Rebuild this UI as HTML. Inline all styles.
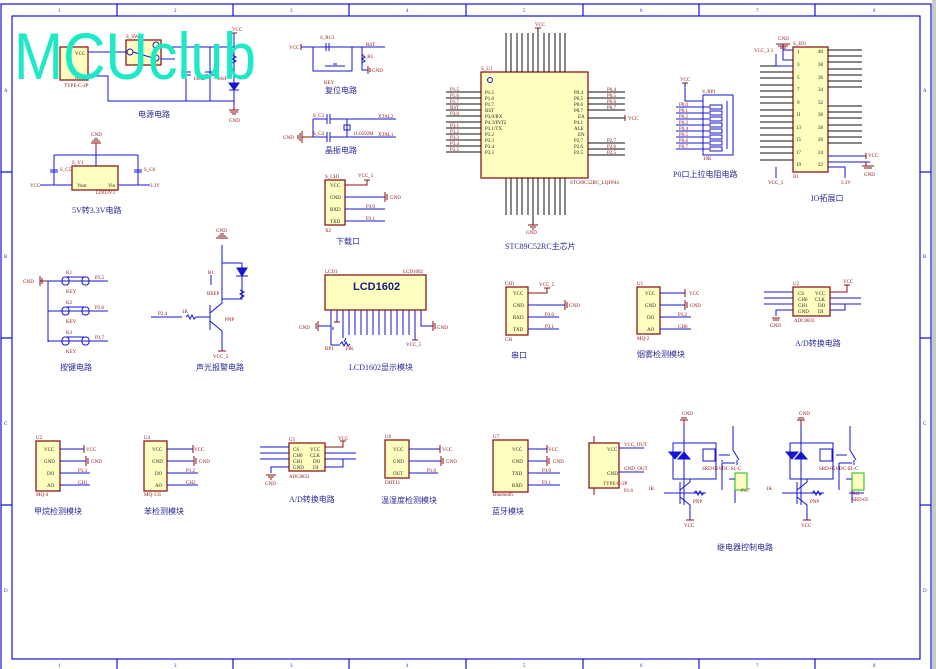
<!DOCTYPE html>
<html><head><meta charset="utf-8"><style>
html,body{margin:0;padding:0;background:#fff;width:936px;height:669px;overflow:hidden}
svg{display:block}
.b{stroke:#1414d2;fill:none;stroke-width:1}
.k{stroke:#111;fill:none;stroke-width:1}
.r{stroke:#8b1010;fill:none;stroke-width:1}
.bx{fill:#ffffc0;stroke:#8b1a1a;stroke-width:1.3}
.f{stroke:#1414d2;fill:none;stroke-width:1.2}
text{font-family:"Liberation Serif","Noto Serif CJK SC",serif}
.t{font-size:5px;fill:#8b1010}
.p{font-size:5px;fill:#222}
.n{font-size:4.5px;fill:#333}
.h{font-size:8px;fill:#2a2a9a;font-family:"Liberation Serif","Noto Sans CJK SC",serif}
.fr{font-size:5px;fill:#2a2ad0;font-family:"Liberation Sans",sans-serif}
</style></head><body>
<svg width="936" height="669" viewBox="0 0 936 669" xmlns="http://www.w3.org/2000/svg">
<rect x="932" y="0" width="4" height="669" fill="#c8c8c8"/>
<!-- frame -->
<g class="f">
<rect x="1" y="4" width="930" height="670"/>
<rect x="12" y="16" width="908" height="643"/>
<path d="M117 4V16M233 4V16M349 4V16M466 4V16M583 4V16M699 4V16M815 4V16"/>
<path d="M117 659V669M233 659V669M349 659V669M466 659V669M583 659V669M699 659V669M815 659V669"/>
<path d="M1 172H12M1 338H12M1 505H12M920 172H931M920 338H931M920 505H931"/>
</g>
<g class="fr">
<text x="58" y="12">1</text><text x="174" y="12">2</text><text x="290" y="12">3</text><text x="406" y="12">4</text><text x="523" y="12">5</text><text x="640" y="12">6</text><text x="756" y="12">7</text><text x="873" y="12">8</text>
<text x="58" y="667">1</text><text x="174" y="667">2</text><text x="290" y="667">3</text><text x="406" y="667">4</text><text x="523" y="667">5</text><text x="640" y="667">6</text><text x="756" y="667">7</text><text x="873" y="667">8</text>
<text x="4" y="92">A</text><text x="4" y="258">B</text><text x="4" y="425">C</text><text x="4" y="592">D</text>
<text x="923" y="92">A</text><text x="923" y="258">B</text><text x="923" y="425">C</text><text x="923" y="592">D</text>
</g>

<!-- ===== Power circuit ===== -->
<rect class="bx" x="60" y="47" width="28" height="33"/>
<text class="p" x="75" y="55">VCC</text><text class="p" x="75" y="79">GND</text>
<text class="t" x="64" y="87">TYPE-C-2P</text>
<rect class="bx" x="126" y="40" width="35" height="25"/>
<text class="t" x="126" y="38">S_SW1</text>
<g class="b">
<path d="M88 52H126M88 76H108V101H234M161 47H234M161 59H175M186 47V101M210 47V101M234 33V101V105"/>
<circle cx="130" cy="52" r="3"/><circle cx="156" cy="45" r="3"/><circle cx="156" cy="58" r="3"/>
<path d="M133 52L153 58M181 72H191M181 75H191M205 72H215M205 75H215"/>
<path d="M229 83H239L234 90Z" fill="#1414d2"/><path d="M229 90H239"/>
<path d="M232 55l4 2-4 2 4 2-4 2"/>
</g>
<g class="r"><path d="M229 110H239M230 112H238M232 114H236M234 105V110M231 33H237"/></g>
<text class="t" x="232" y="31">VCC</text><text class="t" x="229" y="122">GND</text>
<text class="t" x="193" y="80">100uF</text><text class="t" x="217" y="80">10uF</text>
<text class="h" x="138" y="117">电源电路</text>

<!-- ===== 5V to 3.3V ===== -->
<rect class="bx" x="72" y="166" width="46" height="24"/>
<text class="t" x="72" y="164">S_V1</text><text class="p" x="77" y="187">Vout</text><text class="p" x="108" y="187">Vin</text>
<text class="t" x="96" y="194">LDO3V3</text>
<g class="b"><path d="M54 155H138M96 152V166M54 155V185M138 155V185M50 170H58M50 172H58M134 170H142M134 172H142M40 185H72M118 185H150"/></g>
<g class="r"><path d="M91 143H101M92 141H100M94 139H98M96 143V152"/></g>
<text class="t" x="91" y="136">GND</text><text class="t" x="30" y="187">VCC</text><text class="t" x="150" y="187">3.3V</text>
<text class="t" x="60" y="171">S_C5</text><text class="t" x="144" y="171">S_C6</text>
<text class="h" x="72" y="213">5V转3.3V电路</text>

<!-- ===== Reset ===== -->
<g class="b"><path d="M301 47H385M313 47V71H352V47M326 43V51M329 43V51M362 55l3 2-3 2 3 2-3 2M362 47V70H368M325 66H345M333 64H337"/></g>
<g class="r"><path d="M368 66V74M370 68V72M301 44V50"/></g>
<text class="t" x="289" y="49">VCC</text><text class="t" x="320" y="39">S_RC1</text><text class="t" x="366" y="46">RST</text>
<text class="t" x="362" y="58">S_R1</text><text class="t" x="372" y="72">GND</text><text class="t" x="324" y="84">KEY</text>
<text class="h" x="325" y="93">复位电路</text>
<!-- crystal -->
<g class="b"><path d="M313 119V137M313 119H327M330 119H396M313 137H327M330 137H396M327 114V124M330 114V124M327 132V142M330 132V142M347 119V137"/><rect x="344" y="125" width="6" height="5"/></g>
<g class="r"><path d="M302 131V143M300 133V141M298 135V139M302 137H313"/></g>
<text class="t" x="283" y="139">GND</text><text class="t" x="313" y="117">S_C3</text><text class="t" x="313" y="135">S_C4</text>
<text class="t" x="378" y="118">XTAL2</text><text class="t" x="378" y="136">XTAL1</text><text class="t" x="353" y="135">11.0592M</text>
<text class="h" x="325" y="153">晶振电路</text>
<!-- download -->
<rect class="bx" x="325" y="180" width="20" height="45"/>
<text class="t" x="325" y="178">S_CH1</text>
<text class="p" x="330" y="187">VCC</text><text class="p" x="330" y="199">GND</text><text class="p" x="330" y="211">RXD</text><text class="p" x="330" y="223">TXD</text>
<g class="b"><path d="M345 197H385M345 209H385M345 221H385"/></g>
<g class="r"><path d="M345 185H367V180M364 180H370M385 192V202M387 194V200"/></g>
<text class="t" x="358" y="177">VCC_5</text><text class="t" x="390" y="199">GND</text><text class="t" x="366" y="208">P3.0</text><text class="t" x="366" y="220">P3.1</text>
<text class="t" x="325" y="232">X2</text>
<text class="h" x="336" y="244">下载口</text>

<!-- ===== MCU ===== -->
<rect class="bx" x="481" y="72" width="107" height="106"/>
<text class="t" x="481" y="70">S_U1</text>
<circle cx="490" cy="80" r="2.5" fill="none" stroke="#1414d2"/>
<g class="k">
<path d="M506 33V72M511 33V72M517 33V72M522 33V72M528 33V72M533 33V72M538 28V72M544 33V72M549 33V72M555 33V72M560 33V72M565 33V72"/>
<path d="M506 178V215M511 178V215M517 178V215M522 178V215M528 178V215M533 178V225M538 178V215M544 178V215M549 178V215M555 178V215M560 178V215M565 178V215"/>
<path d="M446 92H481M446 98H481M446 104H481M446 110H481M446 116H481M446 128H481M446 134H481M446 140H481M446 146H481M446 152H481M446 122H481"/>
<path d="M588 92H625M588 98H625M588 104H625M588 110H625M588 118H625M588 143H625M588 149H625M588 155H625"/>
</g>
<g class="r"><path d="M535 28H541M528 225H538M530 227H536M532 229H534M625 115V121"/></g>
<text class="t" x="535" y="26">VCC</text><text class="t" x="526" y="234">GND</text><text class="t" x="628" y="120">VCC</text>
<g class="p">
<text x="485" y="94">P1.5</text><text x="485" y="100">P1.6</text><text x="485" y="106">P1.7</text><text x="485" y="112">RST</text><text x="485" y="118">P3.0/RX</text><text x="485" y="124">P4.3/INT2</text><text x="485" y="130">P3.1/TX</text><text x="485" y="136">P3.2</text><text x="485" y="142">P3.3</text><text x="485" y="148">P3.4</text><text x="485" y="154">P3.5</text>
<text x="574" y="94">P0.4</text><text x="574" y="100">P0.5</text><text x="574" y="106">P0.6</text><text x="574" y="112">P0.7</text><text x="578" y="118">EA</text><text x="574" y="124">P4.1</text><text x="574" y="130">ALE</text><text x="578" y="136">EN</text><text x="574" y="142">P2.7</text><text x="574" y="148">P2.6</text><text x="574" y="154">P2.5</text>
</g>
<g class="t"><text x="450" y="91">P1.5</text><text x="450" y="97">P1.6</text><text x="450" y="103">P1.7</text><text x="450" y="109">RST</text><text x="450" y="115">P3.0</text><text x="450" y="127">P3.1</text><text x="450" y="133">P3.2</text><text x="450" y="139">P3.3</text><text x="450" y="145">P3.4</text><text x="450" y="151">P3.5</text>
<text x="607" y="91">P0.4</text><text x="607" y="97">P0.5</text><text x="607" y="103">P0.6</text><text x="607" y="109">P0.7</text><text x="607" y="142">P2.7</text><text x="607" y="148">P2.6</text><text x="607" y="154">P2.5</text></g>
<text class="t" x="570" y="184">STC89C52RC_LQFP44</text>
<text class="h" x="505" y="249">STC89C52RC主芯片</text>

<!-- ===== P0 pull-up ===== -->
<rect x="703" y="95" width="30" height="60" fill="none" stroke="#1414d2"/>
<text class="t" x="702" y="93">S_RP1</text>
<g class="b"><path d="M685 83V101H703M676 107H709M676 113H709M676 119H709M676 125H709M676 131H709M676 137H709M676 143H709M676 149H709M727 101V149"/></g>
<g fill="none" stroke="#1414d2"><rect x="710" y="105" width="12" height="4"/><rect x="710" y="111" width="12" height="4"/><rect x="710" y="117" width="12" height="4"/><rect x="710" y="123" width="12" height="4"/><rect x="710" y="129" width="12" height="4"/><rect x="710" y="135" width="12" height="4"/><rect x="710" y="141" width="12" height="4"/><rect x="710" y="147" width="12" height="4"/></g>
<g class="r"><path d="M682 83H688"/></g><text class="t" x="680" y="81">VCC</text>
<g class="t"><text x="679" y="106">P0.0</text><text x="679" y="112">P0.1</text><text x="679" y="118">P0.2</text><text x="679" y="124">P0.3</text><text x="679" y="130">P0.4</text><text x="679" y="136">P0.5</text><text x="679" y="142">P0.6</text><text x="679" y="148">P0.7</text></g>
<text class="t" x="703" y="160">10K</text>
<text class="h" x="673" y="177">P0口上拉电阻电路</text>

<!-- ===== IO header ===== -->
<rect class="bx" x="793" y="47" width="35" height="125"/>
<text class="t" x="793" y="45">S_JD1</text>
<g class="k"><path d="M760 66H793M760 72H793M760 78H793M760 85H793M760 91H793M760 97H793M760 103H793M760 110H793M760 116H793M760 122H793M760 128H793M760 135H793M760 141H793M760 147H793M760 153H793M760 160H793
M828 50H862M828 56H862M828 62H862M828 69H862M828 75H862M828 81H862M828 87H862M828 106H862M828 112H862M828 118H862M828 125H862M828 131H862M828 137H862M828 143H862M828 162H862"/></g>
<g class="b"><path d="M776 54V66H793M783 44V60H793M783 50H793M776 167V178M828 167H845V178M828 156H866M828 162H870"/></g>
<g class="r"><path d="M776 44H790M778 46H788M780 48H786M866 153V159M866 162V166M862 166H874M864 168H872"/></g>
<text class="t" x="778" y="40">GND</text><text class="t" x="754" y="52">VCC_3.3</text><text class="t" x="768" y="184">VCC_5</text><text class="t" x="841" y="184">3.3V</text>
<text class="t" x="868" y="157">VCC</text><text class="t" x="864" y="176">GND</text>
<g class="p"><text x="797" y="53">1</text><text x="797" y="66">3</text><text x="797" y="79">5</text><text x="797" y="91">7</text><text x="797" y="104">9</text><text x="796" y="116">11</text><text x="796" y="129">13</text><text x="796" y="141">15</text><text x="796" y="154">17</text><text x="796" y="166">19</text>
<text x="818" y="53">40</text><text x="818" y="66">38</text><text x="818" y="79">36</text><text x="818" y="91">34</text><text x="818" y="104">32</text><text x="818" y="116">30</text><text x="818" y="129">28</text><text x="818" y="141">26</text><text x="818" y="154">24</text><text x="818" y="166">22</text></g>
<text class="t" x="793" y="178">IO</text>
<text class="h" x="811" y="201">IO拓展口</text>

<!-- ===== Keys ===== -->
<g class="b"><path d="M48 281V342M48 281H108M48 311H108M48 341H108"/>
<path d="M66 277H84M66 307H84M66 337H84"/>
<rect x="62" y="277" width="7" height="8" rx="3"/><rect x="82" y="277" width="7" height="8" rx="3"/>
<rect x="62" y="307" width="7" height="8" rx="3"/><rect x="82" y="307" width="7" height="8" rx="3"/>
<rect x="62" y="337" width="7" height="8" rx="3"/><rect x="82" y="337" width="7" height="8" rx="3"/></g>
<g class="r"><path d="M48 281H40M40 276V286M42 278V284"/></g>
<text class="t" x="23" y="283">GND</text>
<g class="t"><text x="66" y="274">K1</text><text x="66" y="304">K2</text><text x="66" y="334">K3</text><text x="66" y="293">KEY</text><text x="66" y="323">KEY</text><text x="66" y="353">KEY</text><text x="95" y="279">P3.5</text><text x="95" y="309">P3.6</text><text x="95" y="339">P3.7</text></g>
<text class="h" x="60" y="370">按键电路</text>

<!-- ===== buzzer ===== -->
<g class="b"><path d="M151 317H182M186 317l2-2 2 4 2-4 2 4 2-2M196 317H210M210 305V330M210 313L222 303V263H242V299H222M210 321L222 331V351M222 263V245M211 275V285"/>
<path d="M237 268H247L242 276Z" fill="#1414d2"/><path d="M236 276H248M240 290l4 2-4 2 4 2-4 2"/></g>
<g class="r"><path d="M216 238H228M218 236H226M220 234H224M218 351H226"/></g>
<text class="t" x="216" y="232">GND</text><text class="t" x="213" y="358">VCC_5</text><text class="t" x="158" y="315">P2.4</text><text class="t" x="182" y="313">1K</text><text class="t" x="225" y="321">PNP</text><text class="t" x="208" y="274">B1</text><text class="t" x="207" y="295">BEEP</text>
<text class="h" x="196" y="370">声光报警电路</text>

<!-- ===== LCD ===== -->
<rect class="bx" x="325" y="275" width="101" height="35"/>
<text class="t" x="325" y="273">LCD1</text><text class="t" x="403" y="273">LCD1602</text>
<text x="353" y="290" style="font-family:'Liberation Sans',sans-serif;font-weight:bold;font-size:11px;fill:#1a1a80">LCD1602</text>
<g class="b"><path d="M331 310V330M337 310V322M343 310V338M349 310V335M355 310V335M361 310V335M367 310V335M373 310V335M379 310V335M385 310V335M391 310V335M397 310V335M403 310V335M409 310V335M415 310V340M421 310V326H433"/>
<path d="M318 326H331V345H340M340 344l2-2 2 4 2-4 2 4 2-2M344 342L346 338M333 327V330"/></g>
<g class="r"><path d="M318 321V331M316 323V329M433 321V331M435 323V329M412 340H418M334 322H340"/></g>
<text class="t" x="299" y="329">GND</text><text class="t" x="437" y="329">GND</text><text class="t" x="406" y="346">VCC_5</text><text class="t" x="325" y="350">RP1</text><text class="t" x="345" y="350">10K</text>
<text class="h" x="349" y="370">LCD1602显示模块</text>

<!-- ===== Serial ===== -->
<rect class="bx" x="506" y="287" width="22" height="48"/>
<text class="t" x="505" y="285">CH1</text><text class="t" x="505" y="341">CH</text>
<g class="p"><text x="513" y="295">VCC</text><text x="513" y="307">GND</text><text x="513" y="319">RXD</text><text x="513" y="331">TXD</text></g>
<g class="b"><path d="M528 305H565M528 317H559M528 329H559"/></g>
<g class="r"><path d="M528 293H547V288M544 288H550M565 300V310M567 302V308"/></g>
<text class="t" x="539" y="286">VCC_5</text><text class="t" x="569" y="307">GND</text><text class="t" x="545" y="316">P3.0</text><text class="t" x="545" y="328">P3.1</text>
<text class="h" x="511" y="358">串口</text>

<!-- ===== MQ-2 ===== -->
<rect class="bx" x="637" y="287" width="23" height="47"/>
<text class="t" x="637" y="285">U1</text><text class="t" x="637" y="340">MQ-2</text>
<g class="p"><text x="645" y="295">VCC</text><text x="645" y="307">GND</text><text x="647" y="319">DO</text><text x="647" y="331">AO</text></g>
<g class="b"><path d="M660 293H685M660 305H685M660 317H691M660 329H691"/></g>
<g class="r"><path d="M685 289V297M685 300V310M687 302V308"/></g>
<text class="t" x="689" y="295">VCC</text><text class="t" x="690" y="307">GND</text><text class="t" x="678" y="316">P3.2</text><text class="t" x="678" y="328">CH0</text>
<text class="h" x="637" y="357">烟雾检测模块</text>

<!-- ===== ADC right ===== -->
<rect class="bx" x="793" y="287" width="37" height="29"/>
<text class="t" x="793" y="285">U2</text><text class="t" x="794" y="322">ADC0832</text>
<g class="p"><text x="798" y="295">CS</text><text x="798" y="301">CH0</text><text x="798" y="307">CH1</text><text x="798" y="313">GND</text><text x="815" y="295">VCC</text><text x="815" y="301">CLK</text><text x="818" y="307">DO</text><text x="818" y="313">DI</text></g>
<g class="b"><path d="M764 292H793M764 298H793M764 304H793M793 310H776V316M830 298H861M830 304H861M830 310H845V304"/></g>
<g class="r"><path d="M830 292H847V285M844 285H850M772 318H780M773 320H779"/></g>
<text class="t" x="843" y="283">VCC</text><text class="t" x="770" y="327">GND</text>
<text class="h" x="795" y="346">A/D转换电路</text>

<!-- ===== MQ-4 ===== -->
<rect class="bx" x="36" y="441" width="24" height="50"/>
<text class="t" x="36" y="439">U2</text><text class="t" x="36" y="496">MQ-4</text>
<g class="p"><text x="44" y="451">VCC</text><text x="44" y="463">GND</text><text x="47" y="475">DO</text><text x="47" y="487">AO</text></g>
<g class="b"><path d="M60 449H84M60 461H86M60 473H90M60 485H90"/></g>
<g class="r"><path d="M84 445V453M86 456V466M88 458V464"/></g>
<text class="t" x="86" y="451">VCC</text><text class="t" x="91" y="463">GND</text><text class="t" x="78" y="472">P3.3</text><text class="t" x="78" y="484">CH1</text>
<text class="h" x="34" y="514">甲烷检测模块</text>

<!-- ===== MQ-135 ===== -->
<rect class="bx" x="144" y="441" width="23" height="50"/>
<text class="t" x="144" y="439">U4</text><text class="t" x="144" y="496">MQ-135</text>
<g class="p"><text x="152" y="451">VCC</text><text x="152" y="463">GND</text><text x="155" y="475">DO</text><text x="155" y="487">AO</text></g>
<g class="b"><path d="M167 449H193M167 461H194M167 473H198M167 485H198"/></g>
<g class="r"><path d="M193 445V453M194 456V466M196 458V464"/></g>
<text class="t" x="194" y="451">VCC</text><text class="t" x="199" y="463">GND</text><text class="t" x="186" y="472">P1.2</text><text class="t" x="186" y="484">CH2</text>
<text class="h" x="144" y="514">苯检测模块</text>

<!-- ===== ADC left ===== -->
<rect class="bx" x="289" y="443" width="36" height="28"/>
<text class="t" x="289" y="441">U5</text><text class="t" x="289" y="478">ADC0832</text>
<g class="p"><text x="293" y="451">CS</text><text x="293" y="457">CH0</text><text x="293" y="463">CH1</text><text x="293" y="469">GND</text><text x="310" y="451">VCC</text><text x="310" y="457">CLK</text><text x="313" y="463">DO</text><text x="313" y="469">DI</text></g>
<g class="b"><path d="M260 447H289M260 453H289M260 459H289M289 467H271V473M325 453H356M325 459H356M325 467H343V459"/></g>
<g class="r"><path d="M325 447H343V441M340 441H346M266 475H276M268 477H274M270 479H272"/></g>
<text class="t" x="338" y="440">VCC</text><text class="t" x="265" y="485">GND</text>
<text class="h" x="289" y="502">A/D转换电路</text>

<!-- ===== DHT11 ===== -->
<rect class="bx" x="385" y="440" width="24" height="38"/>
<text class="t" x="385" y="438">U6</text><text class="t" x="385" y="484">DHT11</text>
<g class="p"><text x="393" y="451">VCC</text><text x="393" y="463">GND</text><text x="393" y="475">OUT</text></g>
<g class="b"><path d="M409 449H440M409 461H441M409 473H438"/></g>
<g class="r"><path d="M440 445V453M441 456V466M443 458V464"/></g>
<text class="t" x="442" y="451">VCC</text><text class="t" x="446" y="463">GND</text><text class="t" x="427" y="472">P1.0</text>
<text class="h" x="381" y="503">温湿度检测模块</text>

<!-- ===== Bluetooth ===== -->
<rect class="bx" x="493" y="440" width="35" height="52"/>
<text class="t" x="493" y="438">U7</text><text class="t" x="493" y="496">Bluetooth</text>
<g class="p"><text x="512" y="451">VCC</text><text x="512" y="463">GND</text><text x="512" y="475">TXD</text><text x="512" y="487">RXD</text></g>
<g class="b"><path d="M528 449H547M528 461H547M528 473H560M528 485H560"/></g>
<g class="r"><path d="M547 445V453M547 456V466M549 458V464"/></g>
<text class="t" x="548" y="451">VCC</text><text class="t" x="553" y="463">GND</text><text class="t" x="542" y="472">P3.0</text><text class="t" x="542" y="484">P3.1</text>
<text class="h" x="492" y="514">蓝牙模块</text>

<!-- ===== TYPE-C out ===== -->
<rect class="bx" x="589" y="443" width="30" height="45"/>
<g class="p"><text x="607" y="451">VCC</text><text x="607" y="475">GND</text></g>
<g class="b"><path d="M619 448H644M619 472H644"/></g>
<g class="r"><path d="M594 436V443M594 488V495"/></g>
<text class="t" x="624" y="446">VCC_OUT</text><text class="t" x="624" y="470">GND_OUT</text><text class="t" x="603" y="485">TYPE-C-2P</text>

<!-- ===== Relays ===== -->
<g class="b">
<path d="M673 443H716V479H673ZM684 426V505M664 493H680M690 493H694l2-2 2 4 2-4 2 4 2-2M706 493H693"/>
<path d="M706 493H680M680 482V504M680 490L690 482V479M680 497L690 505V520"/>
<path d="M669 452H681L675 459ZM684 452L678 459H690Z" fill="#1414d2"/>
<rect x="703" y="449" width="12" height="12"/><path d="M719 455H730M733 426V450L739 460M737 460V465M722 463V490M722 462V460M722 463H735M729 479H735V503"/>
<path d="M849 493H864"/>
</g>
<rect x="735" y="473" width="12" height="17" fill="#ffffc0" stroke="#11bb11"/>
<g class="b">
<path d="M790 443H833V479H790ZM801 426V505M782 493H796M808 493H812l2-2 2 4 2-4 2 4 2-2M824 493H796"/>
<path d="M797 482V504M797 490L807 482V479M797 497L807 505V520"/>
<path d="M786 452H798L792 459ZM801 452L795 459H807Z" fill="#1414d2"/>
<rect x="820" y="449" width="12" height="12"/><path d="M836 455H847M850 426V450L856 460M854 460V465M839 463V490M839 463H852M846 479H852V503"/>
</g>
<rect x="852" y="473" width="12" height="17" fill="#ffffc0" stroke="#11bb11"/>
<g class="r"><path d="M684 420V426M680 420H688M681 418H687M801 420V426M797 420H805M798 418H804M686 520H694M803 520H811"/></g>
<g class="t"><text x="682" y="415">GND</text><text x="799" y="415">GND</text><text x="684" y="527">VCC</text><text x="801" y="527">VCC</text>
<text x="624" y="492">P1.6</text><text x="648" y="490">1K</text><text x="693" y="503">PNP</text><text x="766" y="490">1K</text><text x="810" y="503">PNP</text><text x="741" y="492">P1.7</text>
<text x="702" y="470">SRD-05VDC-SL-C</text><text x="819" y="470">SRD-05VDC-SL-C</text><text x="852" y="495">JK1</text><text x="852" y="501">SRD-05</text></g>
<text class="h" x="717" y="550">继电器控制电路</text>

<!-- logo -->
<text x="14" y="79" textLength="242" lengthAdjust="spacingAndGlyphs" style="font-family:'Liberation Sans',sans-serif;font-size:66px;fill:#1de9c6">MCUclub</text>
</svg>
</body></html>
